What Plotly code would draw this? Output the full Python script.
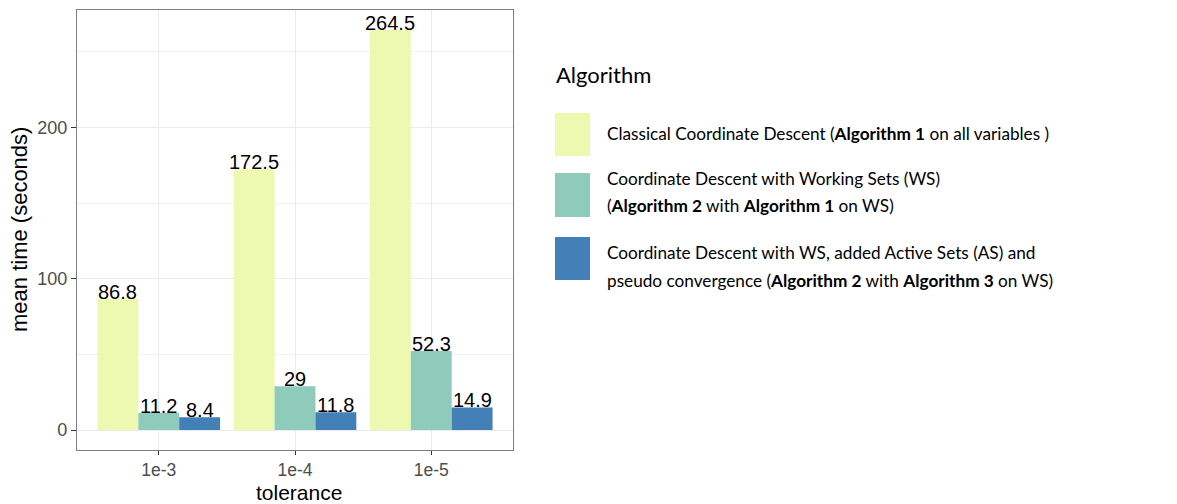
import plotly.graph_objects as go

categories = ["1e-3", "1e-4", "1e-5"]
series_names = [
    "Classical Coordinate Descent",
    "Coordinate Descent with Working Sets (WS)",
    "Coordinate Descent with WS, added Active Sets (AS) and pseudo convergence",
]
classical = [86.8, 172.5, 264.5]
working_sets = [11.2, 29, 52.3]
ws_active_sets = [8.4, 11.8, 14.9]
colors = ["#EDF8B1", "#8FCBBB", "#4280B7"]
x_title = "tolerance"
y_title = "mean time (seconds)"

legend_lines = [
    ["Classical Coordinate Descent (<b>Algorithm 1</b> on all variables )"],
    ["Coordinate Descent with Working Sets (WS)",
     "(<b>Algorithm 2</b> with <b>Algorithm 1</b> on WS)"],
    ["Coordinate Descent with WS, added Active Sets (AS) and",
     "pseudo convergence (<b>Algorithm 2</b> with <b>Algorithm 3</b> on WS)"],
]

OFF = 8  # page body margin
W, H = 1177 - OFF, 504 - OFF
L, R, T, B = 77 - OFF, 513 - OFF, 10 - OFF, 450 - OFF

def px(x):
    return (x - OFF - L) / (R - L)

def py(y):
    return (B - (y - OFF)) / (B - T)

all_series = [classical, working_sets, ws_active_sets]
n = len(all_series)
xrange_ = [-0.6, len(categories) - 0.4]
unit_px = (R - L) / (xrange_[1] - xrange_[0])
bar_w = 0.9 / n

fig = go.Figure()
for k, (name, vals, col) in enumerate(zip(series_names, all_series, colors)):
    fig.add_trace(go.Bar(
        x=categories, y=vals, name=name, marker=dict(color=col, line=dict(width=0)),
        showlegend=False, hoverinfo="x+y",
    ))
    shift = (k - (n - 1) / 2) * bar_w * unit_px
    for i, v in enumerate(vals):
        fig.add_annotation(x=i, y=v, xref="x", yref="y", text=f"{v:g}",
                           showarrow=False, xanchor="center", yanchor="bottom",
                           xshift=shift, yshift=-6,
                           font=dict(family="Liberation Sans, Arial", size=20, color="black"))

ymax = max(classical)
pad = 0.05 * ymax

fig.update_layout(
    width=W, height=H,
    margin=dict(l=L, r=W - R, t=T, b=H - B, autoexpand=False),
    paper_bgcolor="white", plot_bgcolor="white",
    barmode="group", bargap=0.1, bargroupgap=0,
    font=dict(family="Liberation Sans, Arial", color="black"),
    xaxis=dict(
        type="category", range=xrange_, showgrid=True, gridcolor="#EBEBEB", gridwidth=1.2,
        ticks="outside", ticklen=4, tickcolor="#333333", tickwidth=1.1,
        tickfont=dict(size=17.5, color="#4D4D4D"), automargin=False,
        showline=True, linecolor="#7F7F7F", linewidth=1.2, mirror=True, zeroline=False,
    ),
    yaxis=dict(
        range=[-pad, ymax + pad], tickvals=[0, 100, 200],
        showgrid=True, gridcolor="#EBEBEB", gridwidth=1.2,
        minor=dict(tickvals=[50, 150, 250], showgrid=True, gridcolor="#F1F1F1", gridwidth=0.9),
        ticks="outside", ticklen=5, tickcolor="#333333", tickwidth=1.1,
        tickfont=dict(size=18, color="#4D4D4D"), automargin=False,
        showline=True, linecolor="#7F7F7F", linewidth=1.2, mirror=True, zeroline=False,
    ),
)

# axis titles
fig.add_annotation(xref="paper", yref="paper", x=px(299), y=py(492), text=x_title,
                   showarrow=False, xanchor="center", yanchor="middle",
                   font=dict(family="Liberation Sans, Arial", size=21, color="black"))
fig.add_annotation(xref="paper", yref="paper", x=px(19), y=py(230), text=y_title,
                   showarrow=False, xanchor="center", yanchor="middle", textangle=-90,
                   font=dict(family="Liberation Sans, Arial", size=22, color="black"))

legend_font = "Lato, Noto Sans, sans-serif"
fig.add_annotation(xref="paper", yref="paper", x=px(554), y=py(75), text="Algorithm",
                   showarrow=False, xanchor="left", yanchor="middle",
                   font=dict(family=legend_font, size=22, color="black"))

key_boxes = [(113, 156), (173, 217), (237, 280)]
line_ys = [[133], [178, 205], [252, 280]]
for col, (y0, y1), lines, ys in zip(colors, key_boxes, legend_lines, line_ys):
    fig.add_shape(type="rect", xref="paper", yref="paper",
                  x0=px(555), x1=px(590), y0=py(y1), y1=py(y0),
                  fillcolor=col, line=dict(width=0))
    for txt, yy in zip(lines, ys):
        fig.add_annotation(xref="paper", yref="paper", x=px(605), y=py(yy), text=txt,
                           showarrow=False, xanchor="left", yanchor="middle",
                           font=dict(family=legend_font, size=17.2, color="black"))

fig.write_html("out.html")
